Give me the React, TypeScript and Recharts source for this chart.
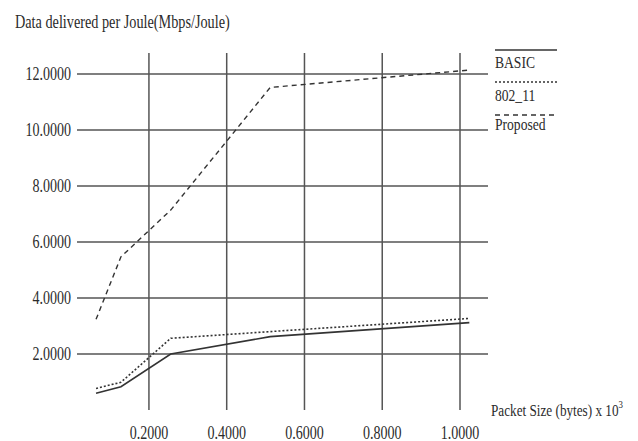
import React from 'react';
import { LineChart, Line, XAxis, YAxis, CartesianGrid, Legend } from 'recharts';

// packet size in bytes x 10^3
const packetSizes = [0.064, 0.128, 0.256, 0.512, 1.024];
const basicValues = [0.6, 0.83, 2.0, 2.62, 3.12];
const ieee80211Values = [0.77, 0.99, 2.56, 2.8, 3.27];
const proposedValues = [3.24, 5.47, 7.14, 11.52, 12.14];

const xTicks = [0.2, 0.4, 0.6, 0.8, 1.0];
const yTicks = [2, 4, 6, 8, 10, 12];
const seriesNames = ['BASIC', '802_11', 'Proposed'];

const data = packetSizes.map((size, i) => ({
  size,
  basic: basicValues[i],
  ieee: ieee80211Values[i],
  proposed: proposedValues[i],
}));

const FONT = '"Liberation Serif", "Times New Roman", serif';
const INK = '#2b2b2b';
const GRID = '#555';
const LINE = '#333';

const dashes = ['', '2 2', '5 4'];

function YTick({ y, payload }: any) {
  return (
    <text
      transform={`translate(71 ${y + 6}) scale(0.78 1)`}
      textAnchor="end"
      fontFamily={FONT}
      fontSize={18}
      fill={INK}
    >
      {Number(payload.value).toFixed(4)}
    </text>
  );
}

function XTick({ x, payload }: any) {
  return (
    <text
      transform={`translate(${x} 439) scale(0.78 1)`}
      textAnchor="middle"
      fontFamily={FONT}
      fontSize={18}
      fill={INK}
    >
      {Number(payload.value).toFixed(4)}
    </text>
  );
}

const TitleLabel = () => (
  <text transform="translate(15 28) scale(0.75 1)" fontFamily={FONT} fontSize={19} fill={INK}>
    Data delivered per Joule(Mbps/Joule)
  </text>
);

const XLabel = () => (
  <text transform="translate(491 416) scale(0.8 1)" fontFamily={FONT} fontSize={16.5} fill={INK}>
    Packet Size (bytes) x 10
    <tspan dy={-8} fontSize={11}>3</tspan>
  </text>
);

function LegendBox() {
  const lineY = [6, 38, 71];
  const textY = [24, 57, 86];
  return (
    <svg width={80} height={95} style={{ display: 'block' }}>
      {seriesNames.map((name, i) => (
        <g key={name}>
          <line x1={5} x2={67} y1={lineY[i]} y2={lineY[i]} stroke={LINE} strokeWidth={1.5} strokeDasharray={dashes[i] || undefined} />
          <text transform={`translate(5 ${textY[i]}) scale(0.8 1)`} fontFamily={FONT} fontSize={17} fill={INK}>
            {name}
          </text>
        </g>
      ))}
    </svg>
  );
}

export default function App() {
  return (
    <div style={{ position: 'absolute', left: 0, top: 0, width: 638, height: 441, background: '#fff' }}>
      <LineChart width={638} height={441} data={data} margin={{ top: 53, right: 150, bottom: 0, left: 0 }}>
        <CartesianGrid stroke={GRID} strokeWidth={1.5} horizontalValues={yTicks} verticalValues={xTicks} />
        <XAxis
          dataKey="size"
          type="number"
          domain={[0.015, 1.072]}
          ticks={xTicks}
          height={31}
          axisLine={false}
          tickLine={false}
          tick={<XTick />}
          label={{ content: XLabel }}
        />
        <YAxis
          type="number"
          domain={[0, 12.75]}
          ticks={yTicks}
          width={77}
          axisLine={false}
          tickLine={false}
          tick={<YTick />}
          label={{ content: TitleLabel }}
        />
        <Legend
          layout="horizontal"
          verticalAlign="middle"
          width={80}
          wrapperStyle={{ left: 490, top: 44, width: 80 }}
          content={<LegendBox />}
        />
        <Line dataKey="basic" name={seriesNames[0]} type="linear" stroke={LINE} strokeWidth={1.6} dot={false} isAnimationActive={false} />
        <Line dataKey="ieee" name={seriesNames[1]} type="linear" stroke={LINE} strokeWidth={1.6} strokeDasharray={dashes[1]} dot={false} isAnimationActive={false} />
        <Line dataKey="proposed" name={seriesNames[2]} type="linear" stroke={LINE} strokeWidth={1.4} strokeDasharray={dashes[2]} dot={false} isAnimationActive={false} />
      </LineChart>
    </div>
  );
}
